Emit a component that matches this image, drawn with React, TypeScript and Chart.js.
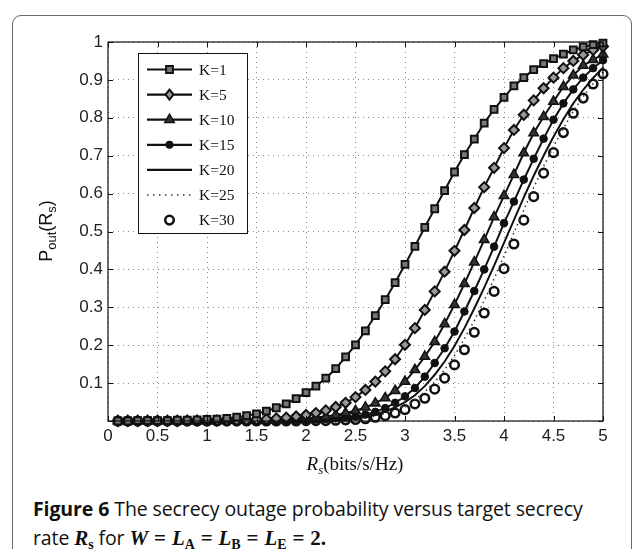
import React, { useEffect, useRef } from 'react';
import { Chart, registerables } from 'chart.js';

Chart.register(...registerables);

const rates = [
  0.1, 0.2, 0.3, 0.4, 0.5, 0.6, 0.7, 0.8, 0.9, 1.0,
  1.1, 1.2, 1.3, 1.4, 1.5, 1.6, 1.7, 1.8, 1.9, 2.0,
  2.1, 2.2, 2.3, 2.4, 2.5, 2.6, 2.7, 2.8, 2.9, 3.0,
  3.1, 3.2, 3.3, 3.4, 3.5, 3.6, 3.7, 3.8, 3.9, 4.0,
  4.1, 4.2, 4.3, 4.4, 4.5, 4.6, 4.7, 4.8, 4.9, 5.0,
];

const k1 = [
  0.000, 0.000, 0.001, 0.001, 0.001, 0.001, 0.002, 0.002, 0.003, 0.004,
  0.005, 0.007, 0.010, 0.014, 0.019, 0.026, 0.035, 0.045, 0.059, 0.075,
  0.092, 0.113, 0.138, 0.169, 0.201, 0.238, 0.278, 0.320, 0.365, 0.413,
  0.461, 0.511, 0.560, 0.608, 0.657, 0.703, 0.744, 0.786, 0.822, 0.854,
  0.884, 0.906, 0.927, 0.943, 0.956, 0.968, 0.979, 0.987, 0.993, 0.997,
];
const k5 = [
  0.000, 0.000, 0.000, 0.000, 0.000, 0.000, 0.000, 0.001, 0.001, 0.001,
  0.001, 0.002, 0.002, 0.003, 0.004, 0.005, 0.007, 0.009, 0.012, 0.016,
  0.021, 0.028, 0.037, 0.048, 0.063, 0.082, 0.104, 0.131, 0.163, 0.201,
  0.245, 0.293, 0.342, 0.394, 0.449, 0.504, 0.562, 0.617, 0.668, 0.720,
  0.768, 0.808, 0.846, 0.878, 0.906, 0.931, 0.950, 0.966, 0.979, 0.988,
];
const k10 = [
  0.000, 0.000, 0.000, 0.000, 0.000, 0.000, 0.000, 0.000, 0.000, 0.000,
  0.000, 0.001, 0.001, 0.001, 0.002, 0.002, 0.003, 0.004, 0.005, 0.007,
  0.009, 0.012, 0.016, 0.021, 0.027, 0.036, 0.047, 0.061, 0.080, 0.104,
  0.135, 0.170, 0.209, 0.256, 0.307, 0.362, 0.419, 0.478, 0.538, 0.594,
  0.650, 0.707, 0.760, 0.803, 0.843, 0.882, 0.912, 0.938, 0.953, 0.968,
];
const k15 = [
  0.000, 0.000, 0.000, 0.000, 0.000, 0.000, 0.000, 0.000, 0.000, 0.000,
  0.000, 0.000, 0.000, 0.000, 0.000, 0.000, 0.001, 0.001, 0.002, 0.003,
  0.004, 0.005, 0.007, 0.009, 0.012, 0.017, 0.024, 0.034, 0.048, 0.065,
  0.087, 0.117, 0.153, 0.192, 0.236, 0.289, 0.343, 0.400, 0.460, 0.522,
  0.579, 0.637, 0.692, 0.745, 0.795, 0.838, 0.875, 0.906, 0.931, 0.952,
];
const k20 = [
  0.000, 0.000, 0.000, 0.000, 0.000, 0.000, 0.000, 0.000, 0.000, 0.000,
  0.000, 0.000, 0.000, 0.000, 0.000, 0.000, 0.000, 0.001, 0.001, 0.001,
  0.002, 0.003, 0.004, 0.005, 0.008, 0.012, 0.017, 0.025, 0.036, 0.050,
  0.068, 0.092, 0.122, 0.157, 0.198, 0.245, 0.297, 0.352, 0.410, 0.470,
  0.530, 0.590, 0.647, 0.700, 0.750, 0.796, 0.838, 0.874, 0.905, 0.932,
];
const k25 = [
  0.000, 0.000, 0.000, 0.000, 0.000, 0.000, 0.000, 0.000, 0.000, 0.000,
  0.000, 0.000, 0.000, 0.000, 0.000, 0.000, 0.000, 0.000, 0.001, 0.001,
  0.001, 0.002, 0.003, 0.004, 0.006, 0.009, 0.013, 0.020, 0.029, 0.041,
  0.056, 0.077, 0.103, 0.135, 0.173, 0.217, 0.265, 0.318, 0.375, 0.435,
  0.497, 0.557, 0.616, 0.672, 0.724, 0.772, 0.817, 0.856, 0.890, 0.920,
];
const k30 = [
  0.000, 0.000, 0.000, 0.000, 0.000, 0.000, 0.000, 0.000, 0.000, 0.000,
  0.000, 0.000, 0.000, 0.000, 0.000, 0.000, 0.000, 0.000, 0.000, 0.001,
  0.001, 0.001, 0.002, 0.003, 0.004, 0.006, 0.010, 0.014, 0.021, 0.030,
  0.045, 0.060, 0.084, 0.113, 0.148, 0.188, 0.234, 0.285, 0.342, 0.402,
  0.467, 0.530, 0.592, 0.654, 0.708, 0.761, 0.812, 0.852, 0.889, 0.916,
];

const seriesLabels = ['K=1', 'K=5', 'K=10', 'K=15', 'K=20', 'K=25', 'K=30'];

const INK = '#111';

type MarkerKind = 'rect' | 'rectRot' | 'triangle' | 'dot' | 'none' | 'ring';
const markerKinds: MarkerKind[] = ['rect', 'rectRot', 'triangle', 'dot', 'none', 'none', 'ring'];

function pts(ys: number[]) {
  return rates.map((x, i) => ({ x, y: ys[i] }));
}

function drawMarker(ctx: CanvasRenderingContext2D, kind: MarkerKind, x: number, y: number) {
  ctx.save();
  ctx.strokeStyle = INK;
  ctx.setLineDash([]);
  if (kind === 'rect') {
    const s = 3.4;
    ctx.fillStyle = '#777';
    ctx.lineWidth = 2;
    ctx.beginPath();
    ctx.rect(x - s, y - s, 2 * s, 2 * s);
    ctx.fill();
    ctx.stroke();
  } else if (kind === 'rectRot') {
    const r = 5;
    ctx.fillStyle = '#999';
    ctx.lineWidth = 2;
    ctx.beginPath();
    ctx.moveTo(x, y - r);
    ctx.lineTo(x + r * 0.8, y);
    ctx.lineTo(x, y + r);
    ctx.lineTo(x - r * 0.8, y);
    ctx.closePath();
    ctx.fill();
    ctx.stroke();
  } else if (kind === 'triangle') {
    const r = 5.5;
    ctx.fillStyle = '#333';
    ctx.lineWidth = 1.5;
    ctx.beginPath();
    ctx.moveTo(x, y - r);
    ctx.lineTo(x + r * 0.866, y + r * 0.5);
    ctx.lineTo(x - r * 0.866, y + r * 0.5);
    ctx.closePath();
    ctx.fill();
    ctx.stroke();
  } else if (kind === 'dot') {
    ctx.fillStyle = INK;
    ctx.beginPath();
    ctx.arc(x, y, 4, 0, Math.PI * 2);
    ctx.fill();
  } else if (kind === 'ring') {
    ctx.lineWidth = 2.5;
    ctx.beginPath();
    ctx.arc(x, y, 4.3, 0, Math.PI * 2);
    ctx.stroke();
  }
  ctx.restore();
}

const decorPlugin = {
  id: 'decor',
  afterDraw(chart: any) {
    const { ctx, chartArea } = chart;
    const { left, right, top, bottom } = chartArea;
    const xs = chart.scales.x;
    const ys = chart.scales.y;
    ctx.save();
    // box
    ctx.strokeStyle = INK;
    ctx.lineWidth = 1.2;
    ctx.setLineDash([]);
    ctx.strokeRect(left, top, right - left, bottom - top);
    // inward ticks
    ctx.lineWidth = 1;
    ctx.beginPath();
    xs.ticks.forEach((t: any) => {
      const px = Math.round(xs.getPixelForValue(t.value)) + 0.5;
      ctx.moveTo(px, bottom);
      ctx.lineTo(px, bottom - 5);
      ctx.moveTo(px, top);
      ctx.lineTo(px, top + 5);
    });
    ys.ticks.forEach((t: any) => {
      const py = Math.round(ys.getPixelForValue(t.value)) + 0.5;
      ctx.moveTo(left, py);
      ctx.lineTo(left + 5, py);
      ctx.moveTo(right, py);
      ctx.lineTo(right - 5, py);
    });
    ctx.stroke();

    // legend
    const lx = 138, ly = 53, lw = 109, lh = 180;
    ctx.fillStyle = '#fff';
    ctx.fillRect(lx, ly, lw, lh);
    ctx.strokeStyle = INK;
    ctx.lineWidth = 1;
    ctx.strokeRect(lx + 0.5, ly + 0.5, lw, lh);
    seriesLabels.forEach((lab, i) => {
      const ry = 69.5 + i * 25.1;
      const kind = markerKinds[i];
      if (i < 5) {
        ctx.strokeStyle = INK;
        ctx.lineWidth = 2.2;
        ctx.setLineDash([]);
        ctx.beginPath();
        ctx.moveTo(147, ry);
        ctx.lineTo(192, ry);
        ctx.stroke();
      } else if (i === 5) {
        ctx.strokeStyle = '#333';
        ctx.lineWidth = 1.5;
        ctx.setLineDash([1.5, 4.5]);
        ctx.beginPath();
        ctx.moveTo(147, ry);
        ctx.lineTo(192, ry);
        ctx.stroke();
        ctx.setLineDash([]);
      }
      drawMarker(ctx, kind, 169.5, ry);
      ctx.fillStyle = INK;
      ctx.font = '15.5px "Liberation Serif"';
      ctx.textAlign = 'left';
      ctx.textBaseline = 'middle';
      ctx.fillText(lab, 199, ry + 1);
    });

    // y title: P_out(R_s)
    ctx.save();
    ctx.translate(46, 231);
    ctx.rotate(-Math.PI / 2);
    ctx.fillStyle = '#111';
    ctx.textBaseline = 'alphabetic';
    const big = '18px "Liberation Sans"';
    const small = '13px "Liberation Sans"';
    const parts: [string, string, number][] = [
      ['P', big, 0], ['out', small, 4], ['(R', big, 0], ['s', small, 4], [')', big, 0],
    ];
    let tw = 0;
    parts.forEach(([s, f]) => { ctx.font = f; tw += ctx.measureText(s).width; });
    let cx = -tw / 2;
    ctx.textAlign = 'left';
    parts.forEach(([s, f, dy]) => {
      ctx.font = f;
      ctx.fillText(s, cx, 6 + dy);
      cx += ctx.measureText(s).width;
    });
    ctx.restore();

    // x title: R_s(bits/s/Hz)
    const xp: [string, string, number][] = [
      ['R', 'italic 19px "Liberation Serif"', 0],
      ['s', 'italic 13px "Liberation Serif"', 4],
      ['(bits/s/Hz)', '19px "Liberation Serif"', 0],
    ];
    let xw = 0;
    xp.forEach(([s, f]) => { ctx.font = f; xw += ctx.measureText(s).width; });
    let xx = 355 - xw / 2;
    ctx.fillStyle = '#111';
    ctx.textAlign = 'left';
    ctx.textBaseline = 'alphabetic';
    xp.forEach(([s, f, dy]) => {
      ctx.font = f;
      ctx.fillText(s, xx, 470 + dy);
      xx += ctx.measureText(s).width;
    });
    ctx.restore();
  },
};

function fmt(v: number) {
  const r = Math.round(v * 10) / 10;
  return String(r);
}

export default function App() {
  const ref = useRef<HTMLCanvasElement | null>(null);

  useEffect(() => {
    if (!ref.current) return;
    const common = { borderColor: INK, clip: false as any, tension: 0 };
    const chart = new Chart(ref.current, {
      type: 'line',
      data: {
        datasets: [
          { ...common, label: seriesLabels[0], data: pts(k1), borderWidth: 2, pointStyle: 'rect', pointRadius: 4.8, pointBackgroundColor: '#777', pointBorderColor: INK, pointBorderWidth: 2 },
          { ...common, label: seriesLabels[1], data: pts(k5), borderWidth: 2, pointStyle: 'rectRot', pointRadius: 5, pointBackgroundColor: '#999', pointBorderColor: INK, pointBorderWidth: 2 },
          { ...common, label: seriesLabels[2], data: pts(k10), borderWidth: 2, pointStyle: 'triangle', pointRadius: 5.5, pointBackgroundColor: '#333', pointBorderColor: INK, pointBorderWidth: 1.5 },
          { ...common, label: seriesLabels[3], data: pts(k15), borderWidth: 2, pointStyle: 'circle', pointRadius: 3.8, pointBackgroundColor: INK, pointBorderColor: INK, pointBorderWidth: 1 },
          { ...common, label: seriesLabels[4], data: pts(k20), borderWidth: 2, pointRadius: 0 },
          { ...common, label: seriesLabels[5], data: pts(k25), borderWidth: 1.5, borderColor: '#333', borderDash: [1.5, 3.5], pointRadius: 0 },
          { ...common, label: seriesLabels[6], data: pts(k30), showLine: false, pointStyle: 'circle', pointRadius: 4.3, pointBackgroundColor: 'rgba(0,0,0,0)', pointBorderColor: INK, pointBorderWidth: 2.5 },
        ],
      },
      options: {
        animation: false,
        responsive: false,
        maintainAspectRatio: false,
        layout: { padding: { left: 0, top: 42, right: 34, bottom: 0 } },
        plugins: { legend: { display: false }, tooltip: { enabled: false }, title: { display: false } },
        scales: {
          x: {
            type: 'linear',
            min: 0,
            max: 5,
            afterFit: (s: any) => { s.height = 59; },
            ticks: {
              stepSize: 0.5,
              padding: 5,
              color: '#222',
              font: { family: '"Liberation Sans"', size: 17 },
              callback: (v: any) => fmt(Number(v)),
              maxRotation: 0,
              autoSkip: false,
            },
            grid: { color: '#888', lineWidth: 1, drawTicks: false },
            border: { display: false, dash: [1, 4] },
          },
          y: {
            type: 'linear',
            min: 0,
            max: 1,
            afterFit: (s: any) => { s.width = 108; },
            ticks: {
              stepSize: 0.1,
              padding: 5,
              color: '#222',
              font: { family: '"Liberation Sans"', size: 17 },
              callback: (v: any) => (Math.abs(Number(v)) < 1e-9 ? '' : fmt(Number(v))),
              autoSkip: false,
            },
            grid: { color: '#888', lineWidth: 1, drawTicks: false },
            border: { display: false, dash: [1, 4] },
          },
        },
      } as any,
      plugins: [decorPlugin],
    });
    return () => chart.destroy();
  }, []);

  const mathB: React.CSSProperties = { fontFamily: '"Liberation Serif", serif', fontStyle: 'italic', fontWeight: 'bold', fontSize: 21 };
  const subB: React.CSSProperties = { fontFamily: '"Liberation Serif", serif', fontWeight: 'bold', fontSize: 14, verticalAlign: '-0.25em' };
  const opB: React.CSSProperties = { fontFamily: '"Liberation Serif", serif', fontWeight: 'bold', fontSize: 21, margin: '0 6px' };
  const numB: React.CSSProperties = { fontFamily: '"Liberation Serif", serif', fontWeight: 'bold', fontSize: 21 };

  return (
    <div style={{ position: 'fixed', left: 0, top: 0, width: 637, height: 549, background: '#fff', overflow: 'hidden' }}>
      <div style={{ position: 'absolute', left: 12, top: 15, width: 620, height: 600, border: '1.3px solid #666', borderRadius: 9, boxSizing: 'border-box' }} />
      <canvas ref={ref} width={637} height={480} style={{ position: 'absolute', left: 0, top: 0, width: 637, height: 480 }} />
      <div style={{ position: 'absolute', left: 33, top: 494, fontFamily: '"Open Sans", sans-serif', fontSize: 19.5, lineHeight: '29px', color: '#111', whiteSpace: 'nowrap', letterSpacing: '-0.1px' }}>
        <span style={{ fontWeight: 'bold' }}>Figure 6</span> The secrecy outage probability versus target secrecy
        <br />
        rate <span style={mathB}>R</span><span style={subB}>s</span> for <span style={mathB}>W</span><span style={opB}>=</span><span style={mathB}>L</span><span style={subB}>A</span><span style={opB}>=</span><span style={mathB}>L</span><span style={subB}>B</span><span style={opB}>=</span><span style={mathB}>L</span><span style={subB}>E</span><span style={opB}>=</span><span style={numB}>2.</span>
      </div>
    </div>
  );
}
